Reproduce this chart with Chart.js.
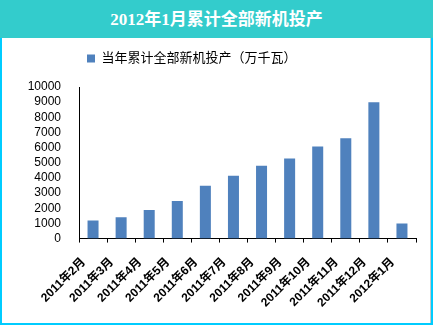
<!DOCTYPE html>
<html>
<head>
<meta charset="utf-8">
<script src="https://cdn.jsdelivr.net/npm/chart.js@4/dist/chart.umd.min.js"></script>
<style>
	body { margin: 0; background: #fff; }
	#frame {
		position: relative;
		width: 433px;
		height: 325px;
		box-sizing: border-box;
		border-left: 2px solid #0cf;
		border-right: 2px solid #0cf;
		border-bottom: 2px solid #0cf;
		background: #fff;
	}
	#title {
		position: absolute;
		left: -2px;
		top: 0;
		width: 433px;
		height: 38px;
		background: #33cccc;
		color: #fff;
		font: bold 17px "Liberation Serif", "Noto Sans CJK SC", serif;
		text-align: center;
		line-height: 40px;
	}
	#box {
		position: absolute;
		left: 0;
		top: 38px;
		width: 428px;
		height: 285px;
		border-right: 1px solid #c8c8c8;
	}
</style>
</head>
<body>
<div id="frame">
	<div id="title">2012年1月累计全部新机投产</div>
	<div id="box"><canvas id="myChart"></canvas></div>
</div>
<script>
var months = [
	"2011年2月", "2011年3月", "2011年4月", "2011年5月", "2011年6月", "2011年7月",
	"2011年8月", "2011年9月", "2011年10月", "2011年11月", "2011年12月", "2012年1月",
];
var seriesName = "当年累计全部新机投产（万千瓦）";
var capacity = [1200, 1400, 1880, 2480, 3480, 4150, 4800, 5280, 6080, 6620, 9000, 1000];
var yTicks = [0, 1000, 2000, 3000, 4000, 5000, 6000, 7000, 8000, 9000, 10000];

// legend starts just right of the y axis and keeps some room below it
var legendShift = {
	id: "legendShift",
	beforeInit: function (chart) {
		var fit = chart.legend.fit;
		chart.legend.fit = function () {
			fit.bind(chart.legend)();
			this.height += 12;
		};
	},
	afterLayout: function (chart) {
		chart.legend.left = chart.chartArea.left - 2;
	},
};

document.addEventListener("DOMContentLoaded", function () {
	var ctx = document.getElementById("myChart").getContext("2d");
	var myChart = new Chart(ctx, {
		type: "bar",
		data: {
			labels: months,
			datasets: [
				{
					label: seriesName,
					data: capacity,
					backgroundColor: "#4f81bd",
					categoryPercentage: 0.8,
					barPercentage: 0.49,
				},
			],
		},
		options: {
			responsive: true,
			maintainAspectRatio: false,
			animation: false,
			layout: {
				autoPadding: false,
				padding: { left: 22, right: 14, top: 4, bottom: 10 },
			},
			plugins: {
				legend: {
					position: "top",
					align: "start",
					labels: {
						boxWidth: 8,
						boxHeight: 8,
						color: "#000",
						padding: 10,
						font: { size: 13, family: "'Liberation Sans', 'Noto Sans CJK SC'" },
					},
				},
				tooltip: { enabled: false },
			},
			scales: {
				x: {
					afterFit: function (axis) {
						axis.paddingLeft = 0;
						axis.paddingRight = 0;
					},
					grid: {
						offset: true,
						drawOnChartArea: false,
						color: "#000",
						tickLength: 4,
					},
					border: { display: true, color: "#000", width: 1 },
					ticks: {
						color: "#000",
						maxRotation: 45,
						minRotation: 45,
						autoSkip: false,
						padding: 3,
						// trailing blanks push the rotated text down-left of the tick
						callback: function (v, i) { return months[i] + "    "; },
						font: { size: 12, weight: "bold", family: "'Liberation Sans', 'Noto Sans CJK SC'" },
					},
				},
				y: {
					min: 0,
					max: 10000,
					afterBuildTicks: function (axis) {
						axis.ticks = yTicks.map(function (v) { return { value: v }; });
					},
					afterFit: function (axis) {
						axis.width = 55;
					},
					grid: { display: false, drawTicks: false },
					border: { display: true, color: "#000", width: 1 },
					ticks: {
						color: "#000",
						padding: 18,
						autoSkip: false,
						callback: function (v) { return String(v); },
						font: { size: 12, family: "'Liberation Sans', 'Noto Sans CJK SC'" },
					},
				},
			},
		},
		plugins: [legendShift],
	});
});
</script>
</body>
</html>
